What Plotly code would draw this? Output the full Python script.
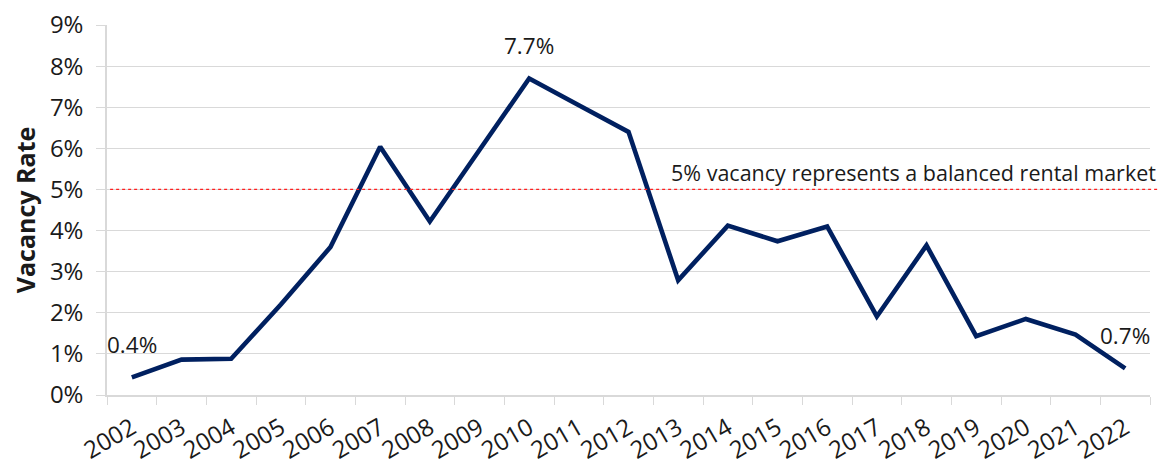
import plotly.graph_objects as go

years = [str(y) for y in range(2002, 2023)]
vacancy = [0.43, 0.86, 0.88, 2.2, 3.6, 6.04, 4.22, 5.97, 7.7, 7.05, 6.4,
           2.79, 4.12, 3.74, 4.1, 1.91, 3.64, 1.43, 1.85, 1.47, 0.65]
label_years = ["2002", "2010", "2022"]
label_texts = ["0.4%", "7.7%", "0.7%"]
balanced_rate = 5
balanced_text = "5% vacancy represents a balanced rental market"
yticks = list(range(0, 10))
ytick_text = [f"{v}%" for v in yticks]

FONT = "'Open Sans', 'Noto Sans', sans-serif"
TXT = "#1a1a1a"
GRID = "#d9d9d9"

fig = go.Figure()
fig.add_trace(go.Scatter(x=years, y=vacancy, mode="lines",
                         line=dict(color="#002060", width=4.6),
                         hoverinfo="x+y", showlegend=False))

fig.add_shape(type="line", xref="paper", yref="y", x0=0.003, x1=1.008,
              y0=balanced_rate, y1=balanced_rate,
              line=dict(color="#ff2020", width=1.3, dash="dot"))

fig.add_annotation(xref="paper", yref="y", x=1.008, y=balanced_rate,
                   text=balanced_text, showarrow=False, xanchor="right",
                   yanchor="bottom", yshift=0, font=dict(size=21.5, color=TXT))

for yr, txt in zip(label_years, label_texts):
    idx = years.index(yr)
    fig.add_annotation(x=idx, y=vacancy[idx], text=txt, showarrow=False,
                       xanchor="center", yanchor="middle", yshift=33,
                       font=dict(size=22.5, color=TXT))

fig.update_layout(
    template="none",
    width=1158, height=456,
    margin=dict(l=99, r=16, t=17, b=69, autoexpand=False),
    plot_bgcolor="white", paper_bgcolor="white",
    font=dict(family=FONT, size=22, color=TXT),
    xaxis=dict(type="category", tickangle=-30, tickson="boundaries",
               ticks="outside", ticklen=8, tickcolor=GRID, tickwidth=1.3,
               showline=True, linecolor=GRID, linewidth=1.5,
               showgrid=False, range=[-0.5, 20.5], automargin=False,
               ticklabelstandoff=8, ticklabeloverflow="allow",
               tickfont=dict(size=24, color=TXT)),
    yaxis=dict(range=[0, 9.0], tickvals=yticks, ticktext=ytick_text,
               showgrid=True, gridcolor=GRID, gridwidth=1.3,
               ticks="outside", ticklen=9, tickcolor=GRID, tickwidth=1.3,
               showline=True, linecolor=GRID, linewidth=1.5,
               zeroline=False, ticklabelstandoff=8, automargin=False,
               ticklabeloverflow="allow",
               tickfont=dict(size=24, color=TXT),
               title=dict(text="<b>Vacancy Rate</b>", standoff=10,
                          font=dict(size=25, color=TXT))),
)

fig.write_html("out.html")
